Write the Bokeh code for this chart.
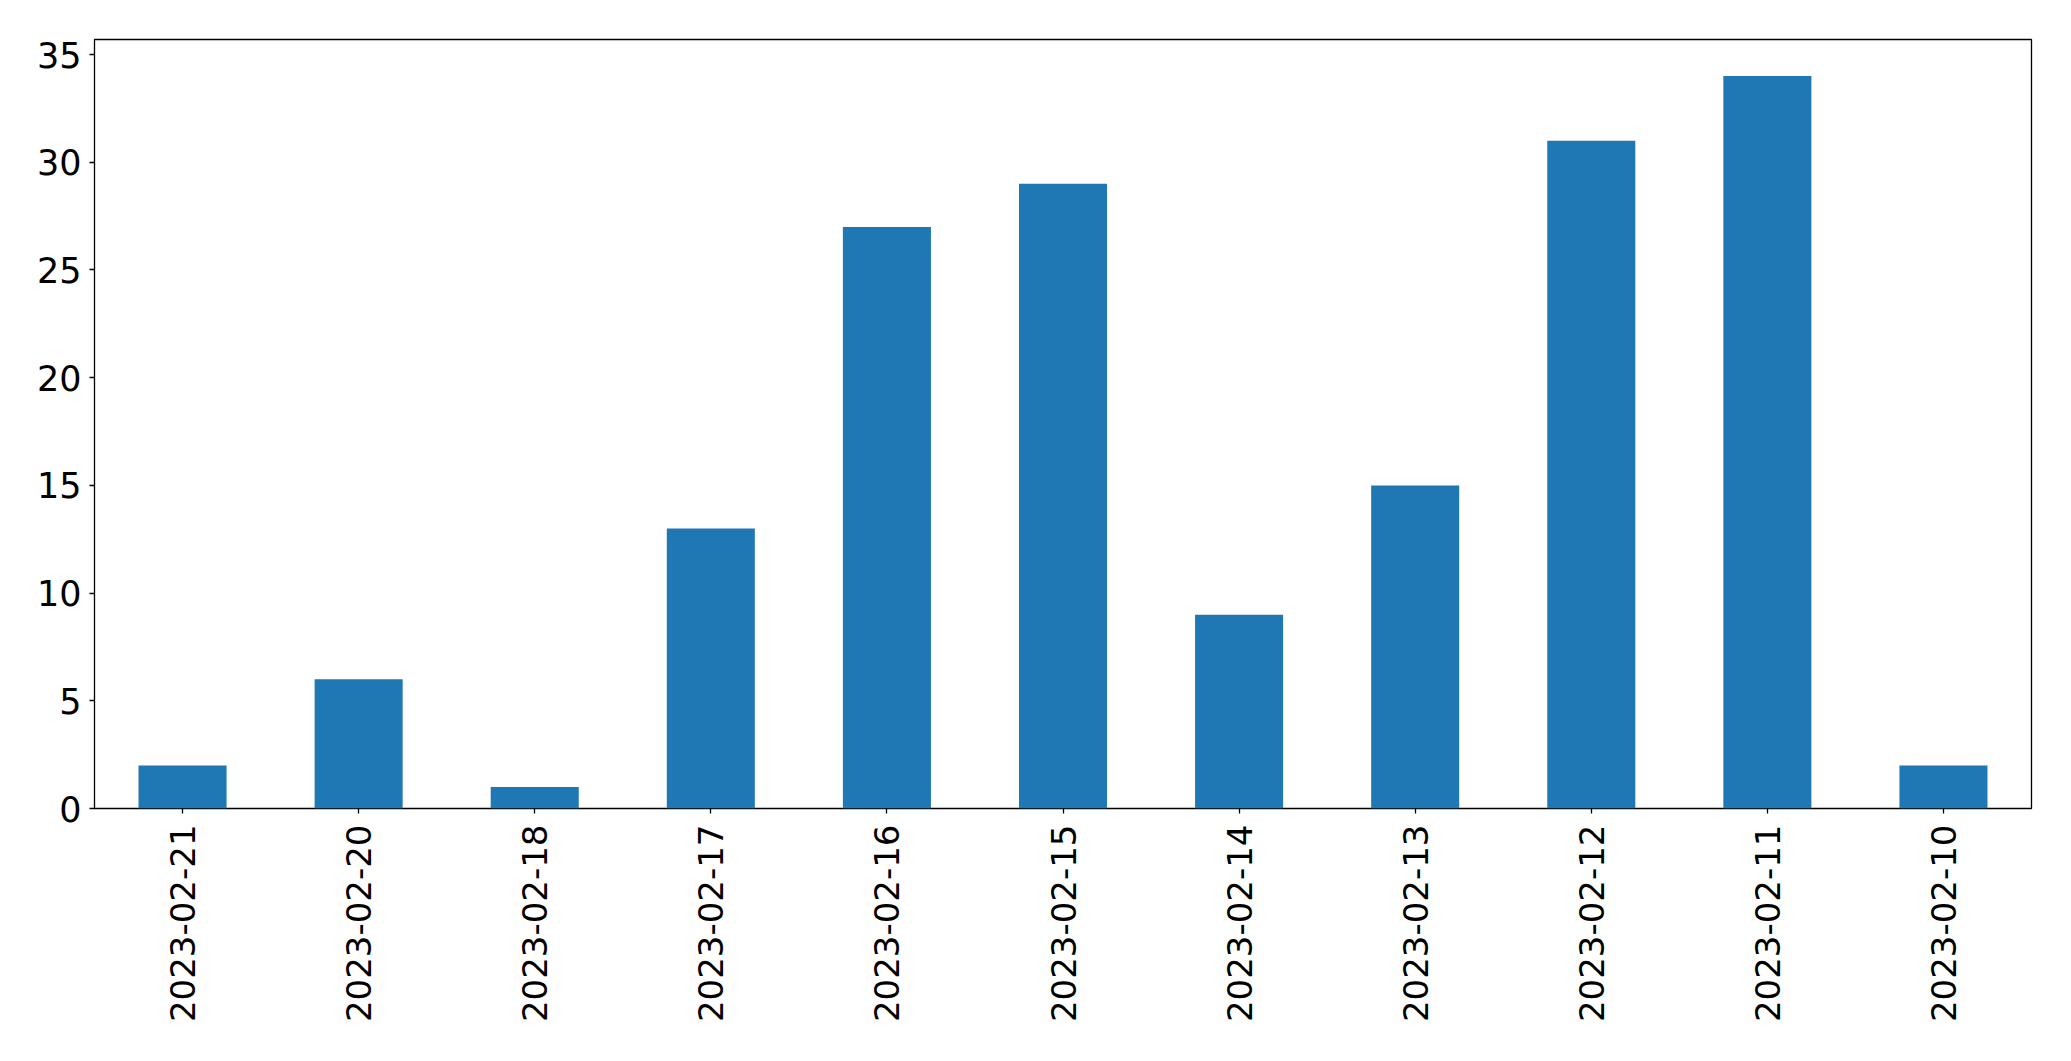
from math import pi
from bokeh.plotting import figure
from bokeh.models import Range1d, FixedTicker, ColumnDataSource
from bokeh.embed import file_html
from bokeh.resources import INLINE

dates = ["2023-02-21", "2023-02-20", "2023-02-18", "2023-02-17", "2023-02-16",
         "2023-02-15", "2023-02-14", "2023-02-13", "2023-02-12", "2023-02-11",
         "2023-02-10"]
counts = [2, 6, 1, 13, 27, 29, 9, 15, 31, 34, 2]
y_ticks = [0, 5, 10, 15, 20, 25, 30, 35]

source = ColumnDataSource(dict(date=dates, count=counts))

p = figure(x_range=dates, y_range=Range1d(0, max(counts) * 1.05),
           frame_width=1937, frame_height=769,
           min_border_left=94, min_border_top=39, min_border_right=30,
           min_border_bottom=220,
           output_backend="svg", toolbar_location=None,
           background_fill_color="white", border_fill_color="white")

p.vbar(x="date", top="count", width=0.5, source=source,
       fill_color="#1f77b4", line_color=None)

p.x_range.range_padding = 0
p.xgrid.grid_line_color = None
p.ygrid.grid_line_color = None
p.outline_line_color = "black"
p.outline_line_width = 1.3
p.outline_line_alpha = 1.0

for ax in (p.xaxis[0], p.yaxis[0]):
    ax.axis_line_color = None
    ax.major_tick_line_color = "black"
    ax.major_tick_line_width = 1.3
    ax.major_tick_out = 5
    ax.major_tick_in = 0
    ax.minor_tick_line_color = None
    ax.major_label_text_font = "DejaVu Sans"
    ax.major_label_text_color = "black"

p.yaxis[0].major_label_text_font_size = "35px"
p.xaxis[0].major_label_text_font_size = "34px"
p.yaxis[0].ticker = FixedTicker(ticks=y_ticks)
p.yaxis[0].major_label_standoff = 8
p.xaxis[0].major_label_orientation = pi / 2
p.xaxis[0].major_label_standoff = 11

open("out.html", "w").write(file_html(p, INLINE))
